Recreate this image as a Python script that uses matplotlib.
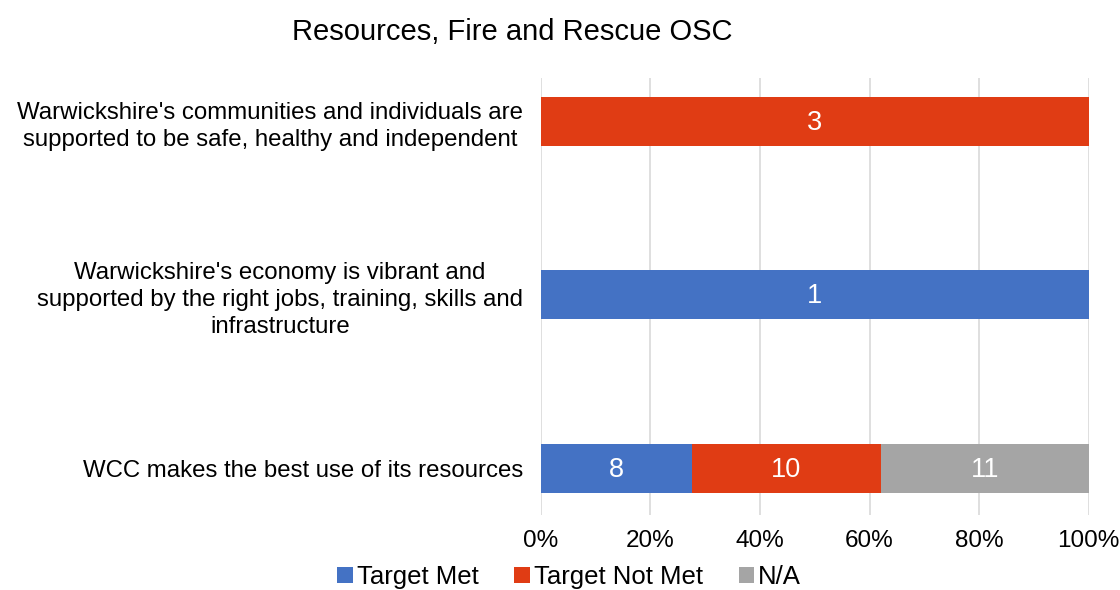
import matplotlib.pyplot as plt
import numpy as np

plt.rcParams['font.family'] = ['Liberation Sans', 'DejaVu Sans']

categories = ["Warwickshire's communities and individuals are\nsupported to be safe, healthy and independent",
              "Warwickshire's economy is vibrant and\nsupported by the right jobs, training, skills and\ninfrastructure",
              "WCC makes the best use of its resources"]
series = ["Target Met", "Target Not Met", "N/A"]
target_met = [0, 1, 8]
target_not_met = [3, 0, 10]
not_applicable = [0, 0, 11]
colors = ["#4472C4", "#E03C14", "#A5A5A5"]

counts = np.array([target_met, target_not_met, not_applicable], dtype=float)
totals = counts.sum(axis=0)
shares = counts / totals

fig = plt.figure(figsize=(11.2, 5.9), dpi=100)
ax = fig.add_axes([0.483, 0.127, 0.489, 0.741])

y = np.arange(len(categories))
left = np.zeros(len(categories))
for name, cnt, sh, col in zip(series, counts, shares, colors):
    bars = ax.barh(y, sh, left=left, height=0.28, color=col, label=name, zorder=3)
    for b, c, s, l in zip(bars, cnt, sh, left):
        if c > 0:
            ax.text(l + s / 2, b.get_y() + b.get_height() / 2 + 0.01, "%d" % c,
                    ha='center', va='center', color='white', fontsize=19.5, zorder=4)
    left += sh

ax.set_xlim(0, 1)
ax.set_ylim(2.27, -0.25)
ax.set_xticks(np.linspace(0, 1, 6))
ax.set_xticklabels(["%d%%" % v for v in range(0, 101, 20)], fontsize=17.5)
ax.set_yticks(y)
ax.set_yticklabels(categories, fontsize=17.3, multialignment='center', linespacing=1.3)
ax.tick_params(length=0, pad=13)
ax.tick_params(axis='x', pad=11)
ax.xaxis.grid(True, color='#D9D9D9', linewidth=1.2, zorder=0)
for s in ax.spines.values():
    s.set_visible(False)

fig.suptitle("Resources, Fire and Rescue OSC", x=0.457, y=0.97, fontsize=21)
fig.legend(loc='center', bbox_to_anchor=(0.508, 0.022), ncol=3, frameon=False,
           fontsize=18.5, handlelength=0.6, handleheight=0.6, handletextpad=0.15,
           columnspacing=1.4)

fig.savefig("out.png", dpi=100)
